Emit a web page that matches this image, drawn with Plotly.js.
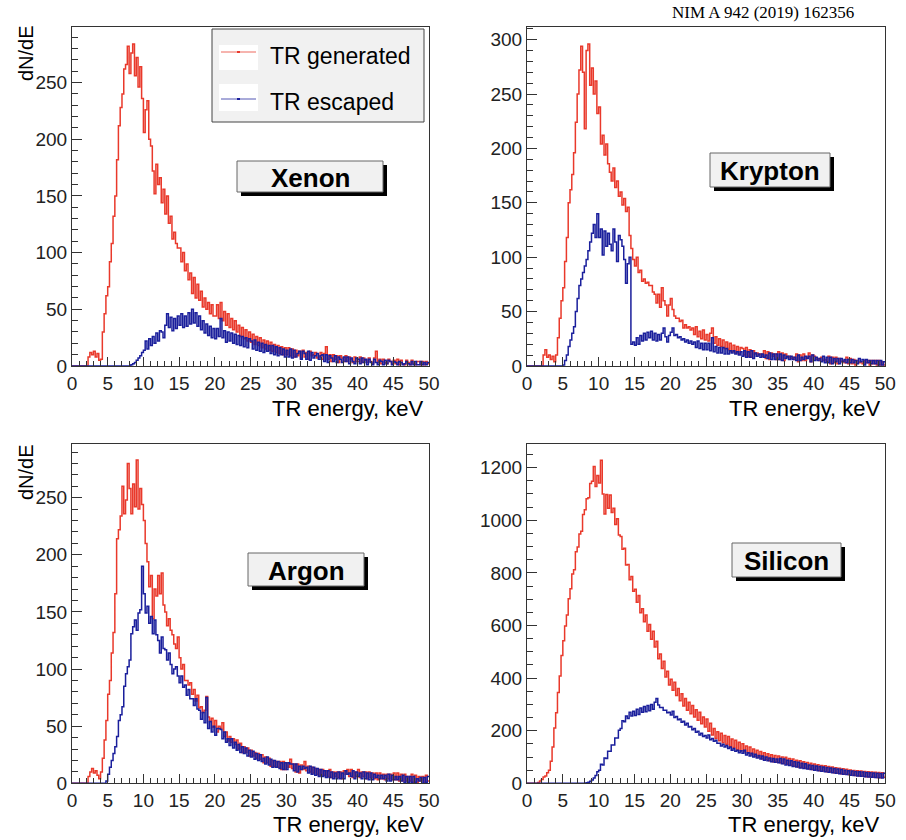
<!DOCTYPE html>
<html><head><meta charset="utf-8">
<script src="https://cdn.plot.ly/plotly-3.0.1.min.js"></script>
<style>html,body{margin:0;padding:0;background:#fff}#plot{width:906px;height:840px}</style>
</head><body><div id="plot"></div>
<script>
// ---- data: histogram bin contents, bin width 0.25 keV, from 0 to 50 keV ----
const BIN_WIDTH = 0.25;

const xenonGenerated = [
0,0,0,0,0,0,0,0,0,8,12,10,13,8,11,5,6,30,46,62,
70,92,108,132,150,182,212,228,240,262,266,282,258,276,284,256,272,246,264,236,
206,226,234,200,194,172,152,178,160,166,144,156,134,150,126,132,112,118,108,104,
104,92,100,84,90,76,82,64,78,60,72,58,66,52,60,50,56,46,54,44,
44,54,42,56,40,48,36,46,34,42,32,40,30,36,26,34,24,32,22,30,
21,28,19,26,18,25,16,23,15,22,14,21,13,19,12,18,11,17,10,16,
10,16,9,15,8,14,9,13,7,14,8,12,6,13,9,10,12,7,8,12,
6,11,17,6,10,4,10,6,9,3,9,7,4,9,4,8,6,3,8,4,
4,8,3,7,5,3,7,4,2,7,13,3,6,2,6,3,2,6,4,2,
5,2,6,1,5,2,1,5,3,1,5,2,1,4,4,1,4,1,4,2];
const xenonEscaped = [
0,0,0,0,0,0,0,0,0,0,0,0,0,0,0,0,0,0,0,0,
0,0,0,0,0,0,0,0,0,0,0,0,0,1,2,3,5,7,9,12,
14,22,15,24,18,26,20,29,22,31,30,25,36,46,34,43,31,42,33,44,
36,46,34,44,35,47,37,50,38,47,35,44,32,40,29,37,27,35,25,33,
24,33,26,42,25,31,21,30,22,29,20,28,19,27,18,26,17,25,16,24,
22,15,23,14,21,13,20,12,19,13,18,11,18,10,17,9,16,10,15,8,
14,8,15,7,14,8,11,13,6,13,11,6,13,5,12,7,9,11,6,9,
10,4,10,3,9,7,4,9,3,8,6,3,8,4,8,2,7,4,2,7,
6,2,7,3,6,1,6,3,1,6,3,1,5,4,1,5,2,5,4,1,
4,3,1,4,3,1,2,4,2,1,4,1,4,1,1,4,1,3,1,3];

const kryptonGenerated = [
0,0,0,0,0,0,0,0,0,10,15,8,10,6,9,4,10,26,44,60,
72,96,118,150,162,176,196,224,250,272,294,270,218,290,296,258,274,250,262,232,
238,204,212,194,204,186,178,170,182,164,170,156,160,148,154,142,146,120,108,98,
92,100,86,88,78,80,76,77,74,74,68,66,58,66,54,72,60,56,46,56,
62,52,46,44,44,41,42,35,38,35,36,33,35,29,36,27,32,25,33,24,
29,23,30,35,21,27,19,25,18,24,16,22,15,21,13,19,12,18,11,17,
16,10,17,9,15,8,14,11,12,10,11,9,14,7,13,6,12,9,11,6,
13,6,12,5,11,8,9,7,8,6,11,4,10,5,11,5,8,12,4,10,
9,6,7,5,8,5,6,4,9,2,8,3,8,2,7,4,5,3,8,2,
7,2,6,1,5,3,4,2,5,3,5,1,5,2,5,1,5,1,4,1];
const kryptonEscaped = [
0,0,0,0,0,0,0,0,0,0,0,0,0,0,0,0,0,0,0,0,
1,5,10,18,24,30,36,50,62,74,80,86,92,98,106,114,122,130,118,140,
118,126,102,124,110,122,112,106,126,114,96,120,116,110,98,76,94,100,20,22,
19,26,20,28,23,30,24,31,26,32,24,30,23,29,24,30,35,27,22,28,
31,35,28,29,26,27,24,25,22,24,21,23,20,22,17,23,16,21,15,21,
15,21,14,26,13,18,12,17,12,17,11,16,11,14,12,14,11,13,10,13,
9,14,8,13,8,14,7,12,9,11,8,11,8,10,7,12,6,11,6,11,
6,11,5,10,7,9,6,9,6,8,5,10,5,8,6,9,7,9,4,10,
5,8,5,7,4,9,3,8,3,8,2,7,4,7,2,7,4,6,3,6,
3,6,3,5,2,7,4,6,1,6,3,5,2,5,2,5,1,5,1,4];

const argonGenerated = [
0,0,0,0,0,0,0,0,0,6,10,13,9,11,7,4,10,22,38,55,
78,90,114,132,166,214,222,234,260,236,248,280,258,236,262,242,283,240,258,244,
230,210,194,172,182,144,170,164,182,166,184,156,150,138,144,134,130,122,118,128,
110,100,104,90,90,86,88,78,82,72,77,66,67,62,64,76,58,54,57,49,
55,45,50,48,53,41,45,37,41,36,39,34,38,30,35,27,32,27,31,24,
29,24,27,22,26,21,25,18,23,18,22,15,20,15,19,14,19,12,19,12,
18,14,21,13,17,10,17,9,16,12,19,11,15,10,14,9,13,8,12,7,
12,7,11,6,12,5,10,6,10,5,10,4,11,8,12,6,12,5,10,6,
12,5,10,6,10,4,10,5,9,4,9,3,9,4,8,3,8,4,8,3,
9,3,9,2,8,2,8,2,6,2,8,1,7,1,6,2,6,1,7,2];
const argonEscaped = [
0,0,0,0,0,0,0,0,0,0,0,0,0,0,0,0,0,0,0,2,
8,14,20,26,32,41,55,60,67,85,96,102,108,131,137,143,134,149,152,190,
166,149,155,140,146,131,143,130,125,114,128,118,117,108,114,104,96,100,102,94,
88,94,84,86,77,82,74,74,68,74,65,64,56,62,53,75,48,54,45,50,
42,48,48,47,39,45,36,39,33,39,31,36,29,34,27,32,26,31,24,29,
23,28,21,26,20,25,19,22,17,23,16,21,14,20,14,19,13,18,12,18,
12,18,17,17,11,17,10,15,12,15,13,14,9,15,8,14,7,13,6,12,
6,11,5,11,5,10,4,9,4,10,4,9,4,11,8,9,6,11,4,10,
6,9,4,10,4,9,3,9,3,8,5,7,4,7,4,7,2,8,2,7,
3,6,3,6,2,7,1,6,1,6,1,6,1,4,2,5,0,5,1,6];

const siliconGenerated = [
0,0,0,0,0,0,3,9,14,24,28,40,50,84,138,210,268,345,408,486,
542,598,640,702,740,796,812,880,898,948,958,1022,1040,1082,1086,1140,1148,1204,1128,1170,
1142,1228,1100,1024,1098,1046,1096,1030,1046,984,1006,944,938,890,894,830,832,774,786,730,
738,688,714,648,664,614,640,578,604,548,578,518,540,474,492,436,464,404,426,374,
396,354,384,334,360,314,340,294,322,278,308,264,296,252,280,240,270,226,252,214,
244,198,228,184,208,170,196,162,190,154,182,148,178,140,168,136,164,128,156,124,
150,120,142,114,138,108,130,102,126,98,121,92,116,90,112,86,109,82,106,80,
104,78,100,75,99,72,94,69,92,65,88,62,86,60,82,57,79,54,76,52,
73,51,71,48,68,47,67,44,64,43,62,40,59,38,57,36,55,34,53,33,
51,31,49,30,48,28,47,27,45,25,44,24,43,23,42,22,41,21,40,23];
const siliconEscaped = [
0,0,0,0,0,0,0,0,0,0,0,0,0,0,0,0,0,0,0,0,
0,0,0,0,0,0,0,0,0,0,0,0,0,2,4,8,13,20,30,44,
50,72,70,96,94,122,122,146,146,172,172,202,208,238,234,256,246,270,256,274,
258,282,262,286,270,292,272,296,276,300,282,308,322,298,288,288,278,278,268,270,
260,274,250,254,242,244,232,236,222,228,214,216,204,208,194,198,184,190,178,182,
172,184,166,170,160,164,152,152,142,148,138,144,132,138,126,132,122,126,116,124,
114,126,108,116,104,114,100,110,96,106,92,104,88,100,86,96,82,94,80,92,
78,94,74,92,70,88,68,86,64,82,62,80,58,76,56,74,54,70,52,68,
50,66,48,64,46,62,44,60,42,58,40,56,38,54,36,52,34,50,33,48,
31,47,30,45,28,44,27,43,25,41,24,40,23,39,22,38,21,37,20,38];

const panelNames = ['Xenon', 'Krypton', 'Argon', 'Silicon'];
const seriesNames = ['TR generated', 'TR escaped'];
const xTitle = 'TR energy, keV';
const yTitle = 'dN/dE';
const sourceNote = 'NIM A 942 (2019) 162356';

// ---- styling / layout ----
const W = 906, H = 840;
const RED = '#e9392b', BLUE = '#1a1f9c';
const SANS = 'Liberation Sans, Arial, Helvetica, sans-serif';
const px = v => v / W;
const py = v => 1 - v / H;

function binEdges(n) { const e = []; for (let i = 0; i <= n; i++) e.push(+(i * BIN_WIDTH).toFixed(3)); return e; }
function hist(vals, color, name, sfx) {
  return { x: binEdges(vals.length), y: vals.concat([vals[vals.length - 1]]),
    type: 'scatter', mode: 'lines', line: { shape: 'hv', color: color, width: 1.5 },
    name: name, showlegend: false, hoverinfo: 'skip', xaxis: 'x' + sfx, yaxis: 'y' + sfx };
}
const data = [
  hist(xenonGenerated, RED, seriesNames[0], ''), hist(xenonEscaped, BLUE, seriesNames[1], ''),
  hist(kryptonGenerated, RED, seriesNames[0], '2'), hist(kryptonEscaped, BLUE, seriesNames[1], '2'),
  hist(argonGenerated, RED, seriesNames[0], '3'), hist(argonEscaped, BLUE, seriesNames[1], '3'),
  hist(siliconGenerated, RED, seriesNames[0], '4'), hist(siliconEscaped, BLUE, seriesNames[1], '4')
];

const tickFont = { family: SANS, size: 19, color: '#222' };
function xAxis(dom, anchor) {
  return { domain: dom, anchor: anchor, range: [0, 50], tick0: 0, dtick: 5,
    ticks: 'inside', ticklen: 9, tickwidth: 1, tickcolor: '#333',
    minor: { dtick: 1, tick0: 0, ticks: 'inside', ticklen: 5, tickwidth: 1, tickcolor: '#333' },
    showline: true, linecolor: '#333', linewidth: 1, mirror: true,
    showgrid: false, zeroline: false, tickfont: tickFont, fixedrange: true };
}
function yAxis(dom, anchor, top, dt, mdt) {
  return { domain: dom, anchor: anchor, range: [0, top], tick0: 0, dtick: dt,
    ticks: 'inside', ticklen: 10, tickwidth: 1, tickcolor: '#333',
    minor: { dtick: mdt, tick0: 0, ticks: 'inside', ticklen: 6, tickwidth: 1, tickcolor: '#333' },
    showline: true, linecolor: '#333', linewidth: 1, mirror: true,
    showgrid: false, zeroline: false, tickfont: tickFont, fixedrange: true };
}
const xL = [px(72), px(429)], xR = [px(527), px(885.3)];
const yT = [py(366), py(27)], yB = [py(783.3), py(444)];

const shapes = [], annotations = [];
function rect(x0, y0, x1, y1, fill, line, lw) {
  shapes.push({ type: 'rect', xref: 'paper', yref: 'paper', x0: px(x0), x1: px(x1), y0: py(y1), y1: py(y0),
    fillcolor: fill, line: { color: line || fill, width: lw === undefined ? 0 : lw }, layer: 'above' });
}
function text(t, x, y, size, opts) {
  annotations.push(Object.assign({ text: t, xref: 'paper', yref: 'paper', x: px(x), y: py(y),
    showarrow: false, font: { family: SANS, size: size, color: '#000' }, xanchor: 'center', yanchor: 'middle' }, opts || {}));
}
// panel name boxes with drop shadow
const boxes = [[237, 161, 383, 192], [710, 153, 830, 187], [248, 553, 364, 586], [732, 543, 841, 577]];
boxes.forEach((b, i) => {
  rect(b[0] + 4, b[1] + 4, b[2] + 4, b[3] + 4, '#000');
  rect(b[0], b[1], b[2], b[3], '#f1f1f1', '#666', 1);
  text('<b>' + panelNames[i] + '</b>', (b[0] + b[2]) / 2, (b[1] + b[3]) / 2 + 1, 26);
});
// legend in the Xenon panel
rect(212, 29, 424, 122, '#f1f1f1', '#444', 1);
rect(219, 45, 258, 70, '#ffffff');
rect(219, 84, 258, 111, '#ffffff');
[[52, RED], [99, BLUE]].forEach(l => {
  shapes.push({ type: 'line', xref: 'paper', yref: 'paper', x0: px(221), x1: px(256), y0: py(l[0]), y1: py(l[0]),
    line: { color: l[1], width: 1 }, opacity: 0.75, layer: 'above' });
  rect(237, l[0] - 1, 240, l[0] + 1, l[1]);
});
text(seriesNames[0], 268, 56, 23, { xanchor: 'left' });
text(seriesNames[1], 268, 102, 23, { xanchor: 'left' });
// axis titles
[[426, 408], [883, 408], [427, 824], [882, 824]].forEach(p => text(xTitle, p[0], p[1], 22, { xanchor: 'right' }));
[[26, 53], [26, 472]].forEach(p => text(yTitle, p[0], p[1], 20, { textangle: -90 }));
// source note
text(sourceNote, 763, 13, 17, { font: { family: 'Liberation Serif, Times New Roman, serif', size: 17, color: '#000' } });

const layout = {
  width: W, height: H, autosize: false, margin: { l: 0, r: 0, t: 0, b: 0 },
  paper_bgcolor: '#fff', plot_bgcolor: '#fff', showlegend: false,
  xaxis: xAxis(xL, 'y'), yaxis: yAxis(yT, 'x', 299, 50, 10),
  xaxis2: xAxis(xR, 'y2'), yaxis2: yAxis(yT, 'x2', 311.6, 50, 10),
  xaxis3: xAxis(xL, 'y3'), yaxis3: yAxis(yB, 'x3', 297, 50, 10),
  xaxis4: xAxis(xR, 'y4'), yaxis4: yAxis(yB, 'x4', 1290, 200, 50),
  shapes: shapes, annotations: annotations
};
Plotly.newPlot('plot', data, layout, { staticPlot: true, displayModeBar: false });
</script></body></html>
